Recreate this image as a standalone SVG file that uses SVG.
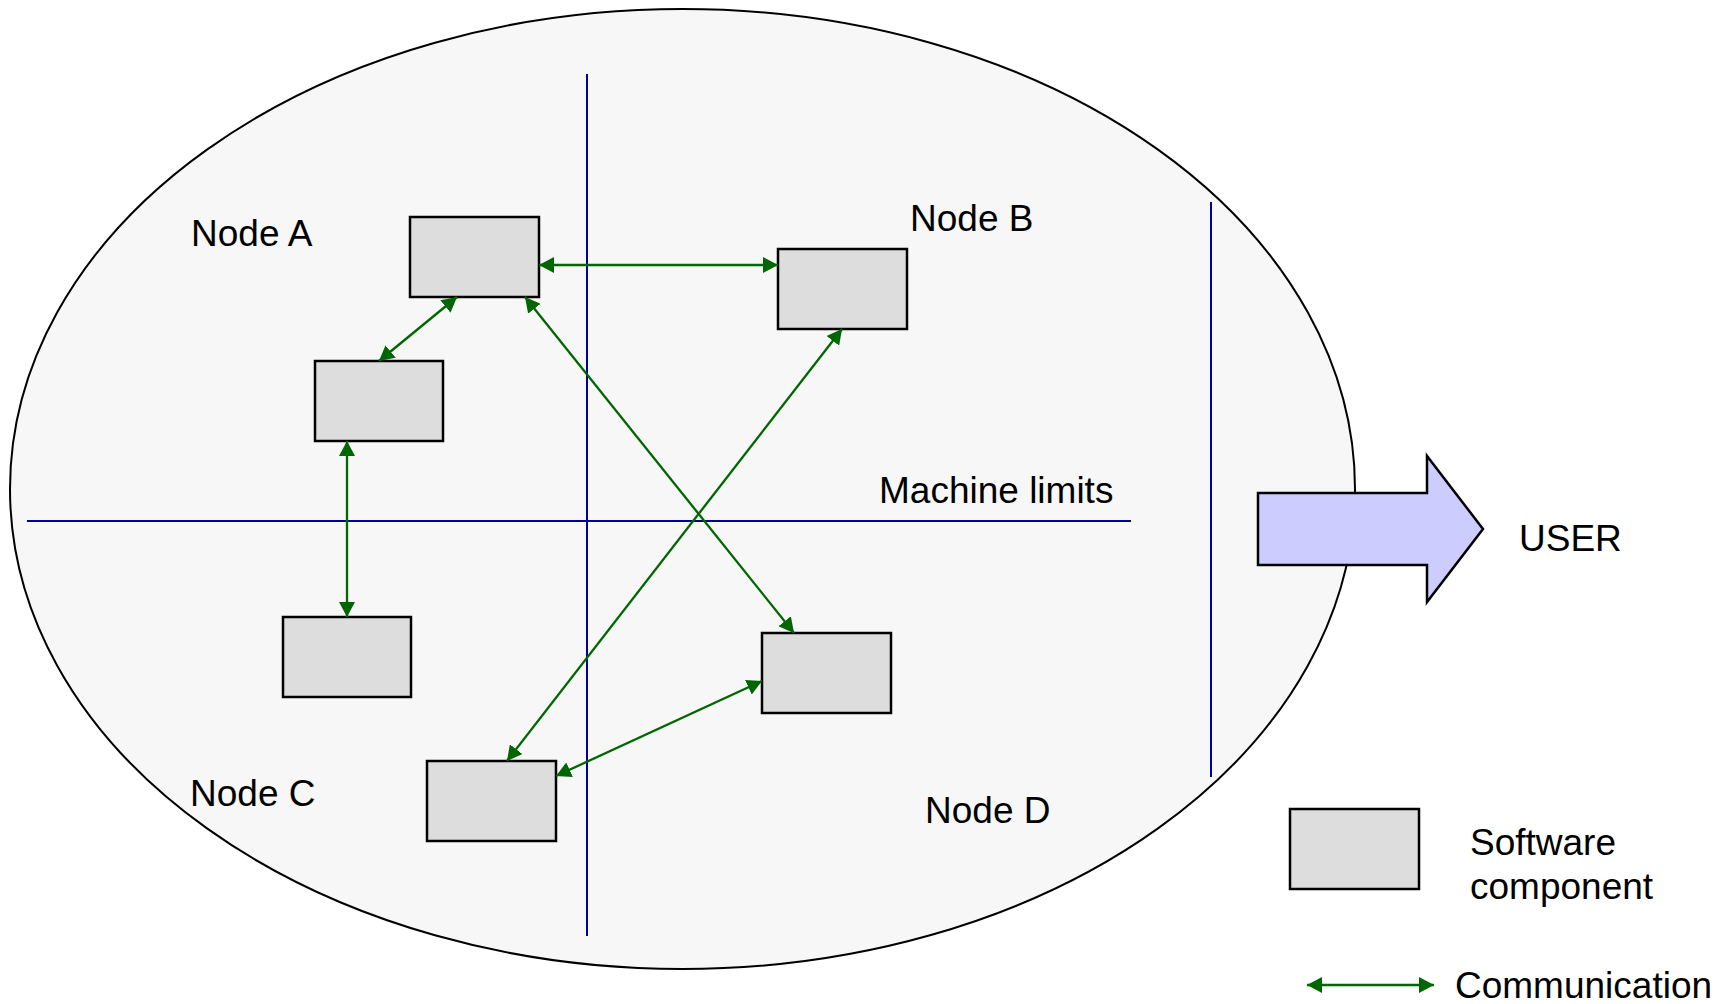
<svg xmlns="http://www.w3.org/2000/svg" width="1729" height="1004" viewBox="0 0 1729 1004">
  <style>
    .label { font-family: "Liberation Sans", Arial, sans-serif; font-size: 37px; fill: #000000; }
    .comp { fill: #dddddd; stroke: #000000; stroke-width: 2.5; }
    .limit { stroke: #000099; stroke-width: 2; fill: none; }
    .comm { stroke: #006600; stroke-width: 2.3; fill: none; marker-start: url(#tip); marker-end: url(#tip); }
  </style>
  <defs>
    <marker id="tip" markerUnits="userSpaceOnUse" viewBox="0 0 15 16" refX="15" refY="8" markerWidth="15" markerHeight="16" orient="auto-start-reverse">
      <path d="M0,0 L15,8 L0,16 z" fill="#006600"/>
    </marker>
  </defs>

  <rect x="0" y="0" width="1729" height="1004" fill="#ffffff"/>

  <!-- system boundary -->
  <ellipse id="system" cx="682.5" cy="489" rx="672.5" ry="480" fill="#f7f7f7" stroke="#000000" stroke-width="2"/>

  <!-- machine limits -->
  <g id="limits">
    <line class="limit" x1="587" y1="74" x2="587" y2="936"/>
    <line class="limit" x1="27" y1="521" x2="1131" y2="521"/>
    <line class="limit" x1="1211" y1="202" x2="1211" y2="777"/>
  </g>

  <!-- output to the user -->
  <g id="user-arrow">
    <path d="M1258,493 L1427,493 L1427,456 L1483,529 L1427,602 L1427,565 L1258,565 z" fill="#ccccff" stroke="#000000" stroke-width="2.5" stroke-linejoin="miter"/>
  </g>

  <!-- software components -->
  <g id="comp-a1"><rect class="comp" x="410" y="217" width="129" height="80"/></g>
  <g id="comp-b1"><rect class="comp" x="778" y="249" width="129" height="80"/></g>
  <g id="comp-a2"><rect class="comp" x="315" y="361" width="128" height="80"/></g>
  <g id="comp-c2"><rect class="comp" x="283" y="617" width="128" height="80"/></g>
  <g id="comp-d1"><rect class="comp" x="762" y="633" width="129" height="80"/></g>
  <g id="comp-c1"><rect class="comp" x="427" y="761" width="129" height="80"/></g>

  <!-- communication links -->
  <g id="connectors">
    <line class="comm" x1="539" y1="265" x2="778" y2="265"/>
    <line class="comm" x1="457" y1="297" x2="379" y2="361"/>
    <line class="comm" x1="525" y1="297" x2="794" y2="633"/>
    <line class="comm" x1="842" y1="329" x2="507" y2="761"/>
    <line class="comm" x1="347" y1="441" x2="347" y2="617"/>
    <line class="comm" x1="556" y1="776" x2="762" y2="681"/>
  </g>

  <!-- region labels -->
  <g id="labels">
    <text class="label" x="191" y="246">Node A</text>
    <text class="label" x="910" y="231">Node B</text>
    <text class="label" x="879" y="503">Machine limits</text>
    <text class="label" x="1519" y="551">USER</text>
    <text class="label" x="190" y="806">Node C</text>
    <text class="label" x="925" y="823">Node D</text>
  </g>

  <!-- legend -->
  <g id="legend">
    <rect class="comp" x="1290" y="809" width="129" height="80"/>
    <text class="label" x="1470" y="855">Software</text>
    <text class="label" x="1470" y="899">component</text>
    <line class="comm" x1="1307" y1="985" x2="1434" y2="985"/>
    <text class="label" x="1455" y="998">Communication</text>
  </g>
</svg>
